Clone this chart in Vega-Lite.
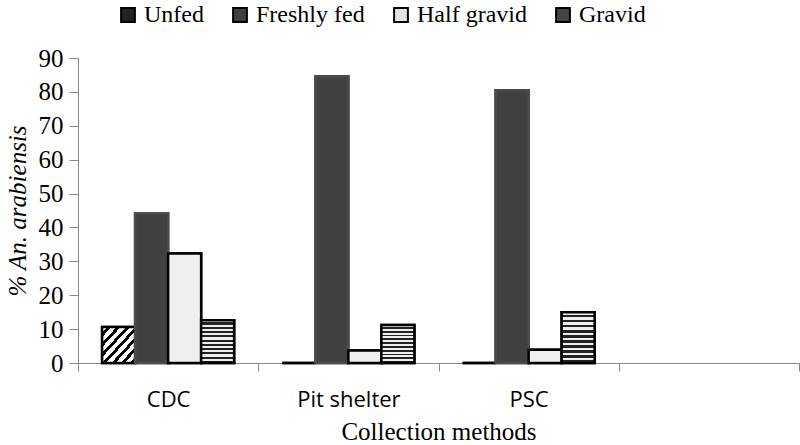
{
  "$schema": "https://vega.github.io/schema/vega-lite/v6.json",
  "autosize": {"type": "none"},
  "padding": {"left": 78, "top": 58, "right": 1, "bottom": 82},
  "width": 721,
  "height": 305,
  "background": "white",
  "config": {
    "view": {"stroke": null},
    "font": "Liberation Serif",
    "style": {"guide-label": {"font": "Liberation Serif"}, "guide-title": {"font": "Liberation Serif"}}
  },
  "data": {
    "values": [
      {"method": "CDC", "stage": "Unfed", "pct": 10.6},
      {"method": "CDC", "stage": "Freshly fed", "pct": 44.1},
      {"method": "CDC", "stage": "Half gravid", "pct": 32.3},
      {"method": "CDC", "stage": "Gravid", "pct": 12.6},
      {"method": "Pit shelter", "stage": "Unfed", "pct": 0},
      {"method": "Pit shelter", "stage": "Freshly fed", "pct": 84.6},
      {"method": "Pit shelter", "stage": "Half gravid", "pct": 3.7},
      {"method": "Pit shelter", "stage": "Gravid", "pct": 11.2},
      {"method": "PSC", "stage": "Unfed", "pct": 0},
      {"method": "PSC", "stage": "Freshly fed", "pct": 80.5},
      {"method": "PSC", "stage": "Half gravid", "pct": 3.9},
      {"method": "PSC", "stage": "Gravid", "pct": 15.0}
    ]
  },
  "encoding": {
    "x": {
      "field": "method",
      "type": "nominal",
      "scale": {"domain": ["CDC", "Pit shelter", "PSC", " "], "paddingInner": 0, "paddingOuter": 0},
      "axis": {
        "title": "Collection methods",
        "titleFont": "Liberation Serif",
        "titleFontSize": 25,
        "titleFontWeight": "normal",
        "titleColor": "black",
        "titlePadding": 9,
        "labelFont": "Open Sans",
        "labelFontSize": 22,
        "labelColor": "black",
        "labelAngle": 0,
        "labelPadding": 18,
        "tickBand": "extent",
        "tickSize": 8,
        "tickColor": "#888888",
        "domainColor": "#888888",
        "grid": false,
        "encode": {"labels": {"update": {"font": {"value": "Open Sans"}}}}
      }
    },
    "xOffset": {
      "field": "stage",
      "type": "nominal",
      "sort": ["Unfed", "Freshly fed", "Half gravid", "Gravid"],
      "scale": {"paddingInner": 0, "paddingOuter": 0.73}
    },
    "y": {
      "field": "pct",
      "type": "quantitative",
      "scale": {"domain": [0, 90], "nice": false},
      "axis": {
        "title": "% An. arabiensis",
        "titleFont": "Liberation Serif",
        "titleFontStyle": "italic",
        "titleFontSize": 25,
        "titleFontWeight": "normal",
        "titleColor": "black",
        "titlePadding": 8,
        "labelFont": "Liberation Serif",
        "labelFontSize": 25,
        "labelColor": "black",
        "labelPadding": 6,
        "values": [0, 10, 20, 30, 40, 50, 60, 70, 80, 90],
        "tickSize": 9,
        "tickColor": "#888888",
        "domainColor": "#888888",
        "grid": false,
        "encode": {"labels": {"update": {"font": {"value": "Liberation Serif"}}}}
      }
    },
    "stroke": {
      "condition": {"test": "datum.stage === 'Freshly fed'", "value": "#4a4a4a"},
      "value": "#000000"
    }
  },
  "layer": [
    {
      "mark": {"type": "bar", "strokeWidth": 2.5},
      "encoding": {
        "fill": {
          "field": "stage",
          "type": "nominal",
          "sort": ["Unfed", "Freshly fed", "Half gravid", "Gravid"],
          "scale": {
            "domain": ["Unfed", "Freshly fed", "Half gravid", "Gravid"],
            "range": ["#222222", "#404040", "#e4e4e4", "#444444"]
          },
          "legend": {
            "title": null,
            "orient": "none",
            "direction": "horizontal",
            "legendX": 38,
            "legendY": -55,
            "symbolType": "square",
            "symbolSize": 190,
            "symbolStrokeColor": "black",
            "symbolStrokeWidth": 2,
            "labelFont": "Liberation Serif",
            "labelFontSize": 24,
            "labelColor": "black",
            "labelOffset": 4,
            "columnPadding": 24,
            "symbolOpacity": 1,
            "encode": {"labels": {"update": {"font": {"value": "Liberation Serif"}}}}
          }
        }
      }
    },
    {
      "mark": {"type": "bar", "strokeWidth": 2.5},
      "encoding": {
        "fill": {
          "condition": [
            {"test": "datum.stage === 'Unfed'", "value": {"gradient": "linear", "x1": 0, "y1": 0, "x2": 1, "y2": 1, "stops": [
              {"offset": 0, "color": "#ffffff"}, {"offset": 0.08, "color": "#ffffff"}, {"offset": 0.08, "color": "#000000"}, {"offset": 0.14, "color": "#000000"},
              {"offset": 0.14, "color": "#ffffff"}, {"offset": 0.22, "color": "#ffffff"}, {"offset": 0.22, "color": "#000000"}, {"offset": 0.28, "color": "#000000"},
              {"offset": 0.28, "color": "#ffffff"}, {"offset": 0.36, "color": "#ffffff"}, {"offset": 0.36, "color": "#000000"}, {"offset": 0.42, "color": "#000000"},
              {"offset": 0.42, "color": "#ffffff"}, {"offset": 0.50, "color": "#ffffff"}, {"offset": 0.50, "color": "#000000"}, {"offset": 0.56, "color": "#000000"},
              {"offset": 0.56, "color": "#ffffff"}, {"offset": 0.64, "color": "#ffffff"}, {"offset": 0.64, "color": "#000000"}, {"offset": 0.70, "color": "#000000"},
              {"offset": 0.70, "color": "#ffffff"}, {"offset": 0.78, "color": "#ffffff"}, {"offset": 0.78, "color": "#000000"}, {"offset": 0.84, "color": "#000000"},
              {"offset": 0.84, "color": "#ffffff"}, {"offset": 0.92, "color": "#ffffff"}, {"offset": 0.92, "color": "#000000"}, {"offset": 0.98, "color": "#000000"},
              {"offset": 0.98, "color": "#ffffff"}, {"offset": 1, "color": "#ffffff"}
            ]}},
            {"test": "datum.stage === 'Freshly fed'", "value": "#404040"},
            {"test": "datum.stage === 'Half gravid'", "value": "#efefef"}
          ],
          "value": {"gradient": "linear", "x1": 0, "y1": 0, "x2": 0, "y2": 1, "stops": [
            {"offset": 0, "color": "#eeeeee"}, {"offset": 0.05, "color": "#eeeeee"}, {"offset": 0.05, "color": "#222222"}, {"offset": 0.1, "color": "#222222"},
            {"offset": 0.1, "color": "#eeeeee"}, {"offset": 0.15, "color": "#eeeeee"}, {"offset": 0.15, "color": "#222222"}, {"offset": 0.2, "color": "#222222"},
            {"offset": 0.2, "color": "#eeeeee"}, {"offset": 0.25, "color": "#eeeeee"}, {"offset": 0.25, "color": "#222222"}, {"offset": 0.3, "color": "#222222"},
            {"offset": 0.3, "color": "#eeeeee"}, {"offset": 0.35, "color": "#eeeeee"}, {"offset": 0.35, "color": "#222222"}, {"offset": 0.4, "color": "#222222"},
            {"offset": 0.4, "color": "#eeeeee"}, {"offset": 0.45, "color": "#eeeeee"}, {"offset": 0.45, "color": "#222222"}, {"offset": 0.5, "color": "#222222"},
            {"offset": 0.5, "color": "#eeeeee"}, {"offset": 0.55, "color": "#eeeeee"}, {"offset": 0.55, "color": "#222222"}, {"offset": 0.6, "color": "#222222"},
            {"offset": 0.6, "color": "#eeeeee"}, {"offset": 0.65, "color": "#eeeeee"}, {"offset": 0.65, "color": "#222222"}, {"offset": 0.7, "color": "#222222"},
            {"offset": 0.7, "color": "#eeeeee"}, {"offset": 0.75, "color": "#eeeeee"}, {"offset": 0.75, "color": "#222222"}, {"offset": 0.8, "color": "#222222"},
            {"offset": 0.8, "color": "#eeeeee"}, {"offset": 0.85, "color": "#eeeeee"}, {"offset": 0.85, "color": "#222222"}, {"offset": 0.9, "color": "#222222"},
            {"offset": 0.9, "color": "#eeeeee"}, {"offset": 0.95, "color": "#eeeeee"}, {"offset": 0.95, "color": "#222222"}, {"offset": 1, "color": "#222222"}
          ]}
        }
      }
    }
  ]
}
